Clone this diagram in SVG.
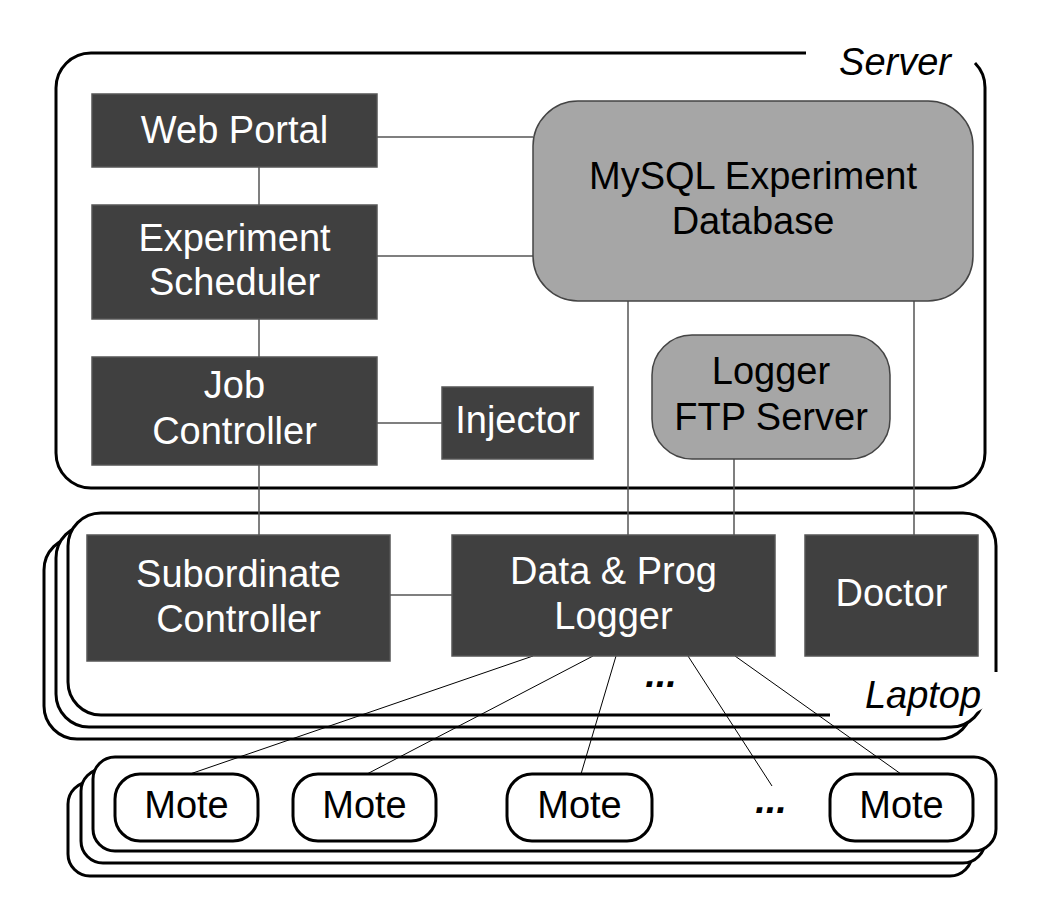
<svg xmlns="http://www.w3.org/2000/svg" width="1048" height="922" viewBox="0 0 1048 922">
<style>
text{font-family:"Liberation Sans",Arial,sans-serif;font-size:38px;text-anchor:middle}
.dark rect{fill:#404040;stroke:#555;stroke-width:1.5}
.dark text{fill:#fff}
.grey rect{fill:#a6a6a6;stroke:#444;stroke-width:1.5}
.grey text{fill:#000}
.frame{fill:#fff;stroke:#000;stroke-width:3}
.fill{fill:#fff;stroke:none}
.open{fill:none;stroke:#000;stroke-width:3}
.mote rect{fill:#fff;stroke:#000;stroke-width:3}
.mote text{fill:#000}
.lbl{font-style:italic;fill:#000}
.c{stroke:#555;stroke-width:1.5;fill:none}
.d{stroke:#000;stroke-width:1;fill:none}
</style>
<rect width="1048" height="922" fill="#fff"/>
<g id="server">
<path class="open" d="M806,53 L91,53 A35,35 0 0 0 56,88 L56,453 A35,35 0 0 0 91,488 L950,488 A35,35 0 0 0 985,453 L985,88 A35,35 0 0 0 975,63"/>
<text class="lbl" x="895" y="75" font-size="43">Server</text>
</g>
<g id="laptop-stack">
<rect class="frame" x="44" y="537" width="928" height="202" rx="33"/>
<rect class="frame" x="56" y="525" width="928" height="202" rx="33"/>
<rect class="fill" x="68" y="513" width="928" height="202" rx="33"/>
<path class="open" d="M996,672 L996,546 A33,33 0 0 0 963,513 L101,513 A33,33 0 0 0 68,546 L68,682 A33,33 0 0 0 101,715 L830,715"/>
<text class="lbl" x="923" y="708" font-size="43">Laptop</text>
<text class="lbl" x="661" y="687" font-weight="bold">...</text>
</g>
<g id="mote-stack">
<rect class="frame" x="68" y="782" width="904" height="94" rx="22"/>
<rect class="frame" x="81" y="769" width="904" height="94" rx="22"/>
<rect class="frame" x="93" y="757" width="903" height="94" rx="22"/>
<text class="lbl" x="771" y="813" font-weight="bold">...</text>
</g>
<g id="connectors">
<line class="c" x1="377" y1="137" x2="533" y2="137"/>
<line class="c" x1="377" y1="256" x2="533" y2="256"/>
<line class="c" x1="259" y1="167" x2="259" y2="205"/>
<line class="c" x1="259" y1="319" x2="259" y2="357"/>
<line class="c" x1="377" y1="423" x2="442" y2="423"/>
<line class="c" x1="259" y1="465" x2="259" y2="535"/>
<line class="c" x1="628" y1="301" x2="628" y2="540"/>
<line class="c" x1="734" y1="459" x2="734" y2="535"/>
<line class="c" x1="914" y1="301" x2="914" y2="535"/>
<line class="c" x1="390" y1="595" x2="452" y2="595"/>
<line class="d" x1="533" y1="656" x2="190" y2="774"/>
<line class="d" x1="593" y1="656" x2="367" y2="774"/>
<line class="d" x1="616" y1="656" x2="581" y2="774"/>
<line class="d" x1="688" y1="656" x2="772" y2="786"/>
<line class="d" x1="735" y1="656" x2="901" y2="774"/>
</g>
<g id="web-portal" class="dark"><rect x="92" y="94" width="285" height="73"/><text x="234.5" y="143">Web Portal</text></g>
<g id="experiment-scheduler" class="dark"><rect x="92" y="205" width="285" height="114"/><text x="234.5" y="251">Experiment</text><text x="234.5" y="295">Scheduler</text></g>
<g id="job-controller" class="dark"><rect x="92" y="357" width="285" height="108"/><text x="234.5" y="398">Job</text><text x="234.5" y="444">Controller</text></g>
<g id="injector" class="dark"><rect x="442" y="387" width="151" height="72"/><text x="517.5" y="433">Injector</text></g>
<g id="mysql-db" class="grey"><rect x="533" y="101" width="440" height="200" rx="45"/><text x="753" y="189">MySQL Experiment</text><text x="753" y="234">Database</text></g>
<g id="logger-ftp" class="grey"><rect x="652" y="335" width="238" height="124" rx="40"/><text x="771" y="384">Logger</text><text x="771" y="430">FTP Server</text></g>
<g id="subordinate-controller" class="dark"><rect x="87" y="535" width="303" height="126"/><text x="238.5" y="587">Subordinate</text><text x="238.5" y="632">Controller</text></g>
<g id="data-prog-logger" class="dark"><rect x="452" y="535" width="323" height="121"/><text x="613.5" y="584">Data &amp; Prog</text><text x="613.5" y="629">Logger</text></g>
<g id="doctor" class="dark"><rect x="805" y="535" width="173" height="121"/><text x="891.5" y="606">Doctor</text></g>
<g id="mote-1" class="mote"><rect x="115" y="774" width="143" height="67" rx="25"/><text x="186.5" y="818">Mote</text></g>
<g id="mote-2" class="mote"><rect x="293" y="774" width="143" height="67" rx="25"/><text x="364.5" y="818">Mote</text></g>
<g id="mote-3" class="mote"><rect x="507" y="774" width="145" height="67" rx="25"/><text x="579.5" y="818">Mote</text></g>
<g id="mote-4" class="mote"><rect x="830" y="774" width="143" height="67" rx="25"/><text x="901.5" y="818">Mote</text></g>
</svg>
